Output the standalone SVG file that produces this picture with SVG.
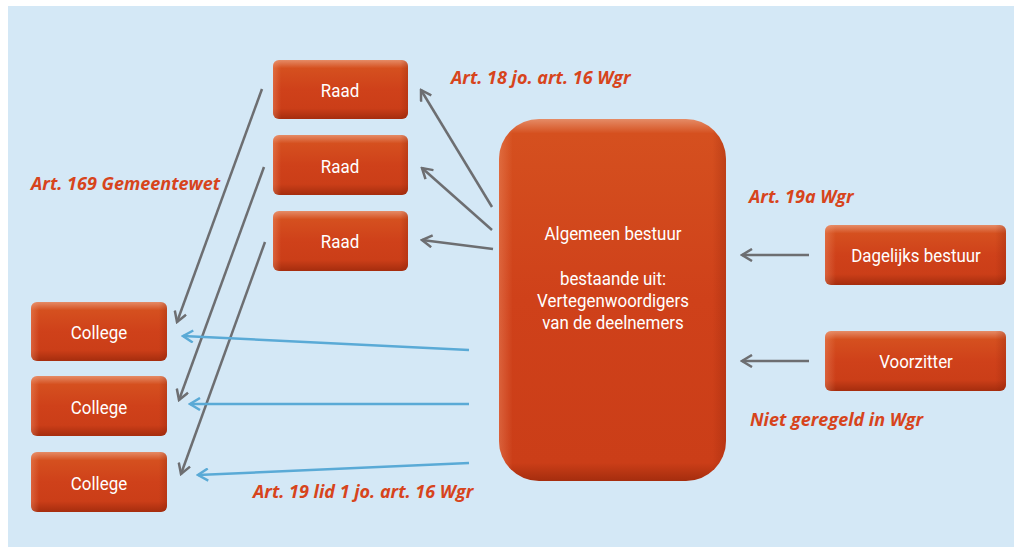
<svg xmlns="http://www.w3.org/2000/svg" width="1014" height="547" viewBox="0 0 1014 547">
<defs>
<linearGradient id="g" x1="0" y1="0" x2="0" y2="1">
<stop offset="0" stop-color="#e58b66"/>
<stop offset="0.14" stop-color="#d5501f"/>
<stop offset="0.5" stop-color="#cf411a"/>
<stop offset="0.82" stop-color="#cb3e18"/>
<stop offset="1" stop-color="#a52d0e"/>
</linearGradient>
<linearGradient id="gb" x1="0" y1="0" x2="0" y2="1">
<stop offset="0" stop-color="#e58b66"/>
<stop offset="0.04" stop-color="#d5501f"/>
<stop offset="0.5" stop-color="#cf411a"/>
<stop offset="0.95" stop-color="#cb3e18"/>
<stop offset="1" stop-color="#a52d0e"/>
</linearGradient>
<linearGradient id="gh" x1="0" y1="0" x2="1" y2="0">
<stop offset="0" stop-color="#f3a07a" stop-opacity="0.35"/>
<stop offset="0.06" stop-color="#f3a07a" stop-opacity="0"/>
<stop offset="0.94" stop-color="#8a2008" stop-opacity="0"/>
<stop offset="1" stop-color="#8a2008" stop-opacity="0.3"/>
</linearGradient>
<marker id="ag" viewBox="0 0 14 14" refX="2" refY="7" markerWidth="14" markerHeight="14" markerUnits="userSpaceOnUse" orient="auto">
<path d="M12,1 L2,7 L12,13" fill="none" stroke="#6d6e71" stroke-width="2.5"/>
</marker>
<marker id="ab" viewBox="0 0 14 14" refX="2" refY="7" markerWidth="14" markerHeight="14" markerUnits="userSpaceOnUse" orient="auto">
<path d="M12,1 L2,7 L12,13" fill="none" stroke="#5aaad6" stroke-width="2.5"/>
</marker>
</defs>
<style>
.box{fill:url(#g)}
.sh{fill:url(#gh)}
.t{font-family:Roboto,"Liberation Sans",sans-serif;font-size:18px;fill:#ffffff;text-anchor:middle}
.lab{font-family:"Open Sans","Liberation Sans",sans-serif;font-size:18px;font-weight:bold;font-style:italic;fill:#d7441c}
.cg{stroke:#6d6e71;stroke-width:2.5;fill:none;marker-start:url(#ag)}
.cb{stroke:#5aaad6;stroke-width:2.5;fill:none;marker-start:url(#ab)}
</style>
<rect x="8" y="6" width="1006" height="541" fill="#d4e8f6"/>

<g id="raad1"><rect class="box" x="273" y="60" width="135" height="59" rx="6"/><rect class="sh" x="273" y="60" width="135" height="59" rx="6"/><text class="t" transform="translate(340,97) scale(0.94,1)">Raad</text></g>
<g id="raad2"><rect class="box" x="273" y="135" width="135" height="60" rx="6"/><rect class="sh" x="273" y="135" width="135" height="60" rx="6"/><text class="t" transform="translate(340,173) scale(0.94,1)">Raad</text></g>
<g id="raad3"><rect class="box" x="273" y="211" width="135" height="60" rx="6"/><rect class="sh" x="273" y="211" width="135" height="60" rx="6"/><text class="t" transform="translate(340,248) scale(0.94,1)">Raad</text></g>

<g id="college1"><rect class="box" x="31" y="302" width="136" height="59" rx="6"/><rect class="sh" x="31" y="302" width="136" height="59" rx="6"/><text class="t" transform="translate(99,339) scale(0.94,1)">College</text></g>
<g id="college2"><rect class="box" x="31" y="376" width="136" height="60" rx="6"/><rect class="sh" x="31" y="376" width="136" height="60" rx="6"/><text class="t" transform="translate(99,414) scale(0.94,1)">College</text></g>
<g id="college3"><rect class="box" x="31" y="452" width="136" height="60" rx="6"/><rect class="sh" x="31" y="452" width="136" height="60" rx="6"/><text class="t" transform="translate(99,490) scale(0.94,1)">College</text></g>

<g id="algemeen"><rect x="499" y="119" width="227" height="362" rx="40" fill="url(#gb)"/><rect class="sh" x="499" y="119" width="227" height="362" rx="40"/>
<text class="t" transform="translate(613,240) scale(0.94,1)">Algemeen bestuur</text>
<text class="t" transform="translate(613,285) scale(0.94,1)">bestaande uit:</text>
<text class="t" transform="translate(613,307) scale(0.94,1)">Vertegenwoordigers</text>
<text class="t" transform="translate(613,329) scale(0.94,1)">van de deelnemers</text></g>

<g id="dagelijks"><rect class="box" x="825" y="225" width="181" height="60" rx="6"/><rect class="sh" x="825" y="225" width="181" height="60" rx="6"/><text class="t" transform="translate(916,262) scale(0.94,1)">Dagelijks bestuur</text></g>
<g id="voorzitter"><rect class="box" x="825" y="331" width="181" height="60" rx="6"/><rect class="sh" x="825" y="331" width="181" height="60" rx="6"/><text class="t" transform="translate(916,368) scale(0.94,1)">Voorzitter</text></g>

<g id="labels">
<text class="lab" x="451" y="84">Art. 18 jo. art. 16 Wgr</text>
<text class="lab" x="31" y="190">Art. 169 Gemeentewet</text>
<text class="lab" x="749" y="203">Art. 19a Wgr</text>
<text class="lab" x="750" y="426">Niet geregeld in Wgr</text>
<text class="lab" x="253" y="498">Art. 19 lid 1 jo. art. 16 Wgr</text>
</g>

<g id="connectors">
<path class="cg" d="M421,90 L492,207"/>
<path class="cg" d="M422,168 L492,230"/>
<path class="cg" d="M422,240 L493,249"/>
<path class="cg" d="M177,322 L262,89"/>
<path class="cg" d="M179,400 L264,167"/>
<path class="cg" d="M181,474 L265,242"/>
<path class="cb" d="M183,336 L469,350"/>
<path class="cb" d="M190,404 L469,404"/>
<path class="cb" d="M198,475 L469,463"/>
<path class="cg" d="M742,255 L809,255"/>
<path class="cg" d="M742,361 L809,361"/>
</g>
</svg>
